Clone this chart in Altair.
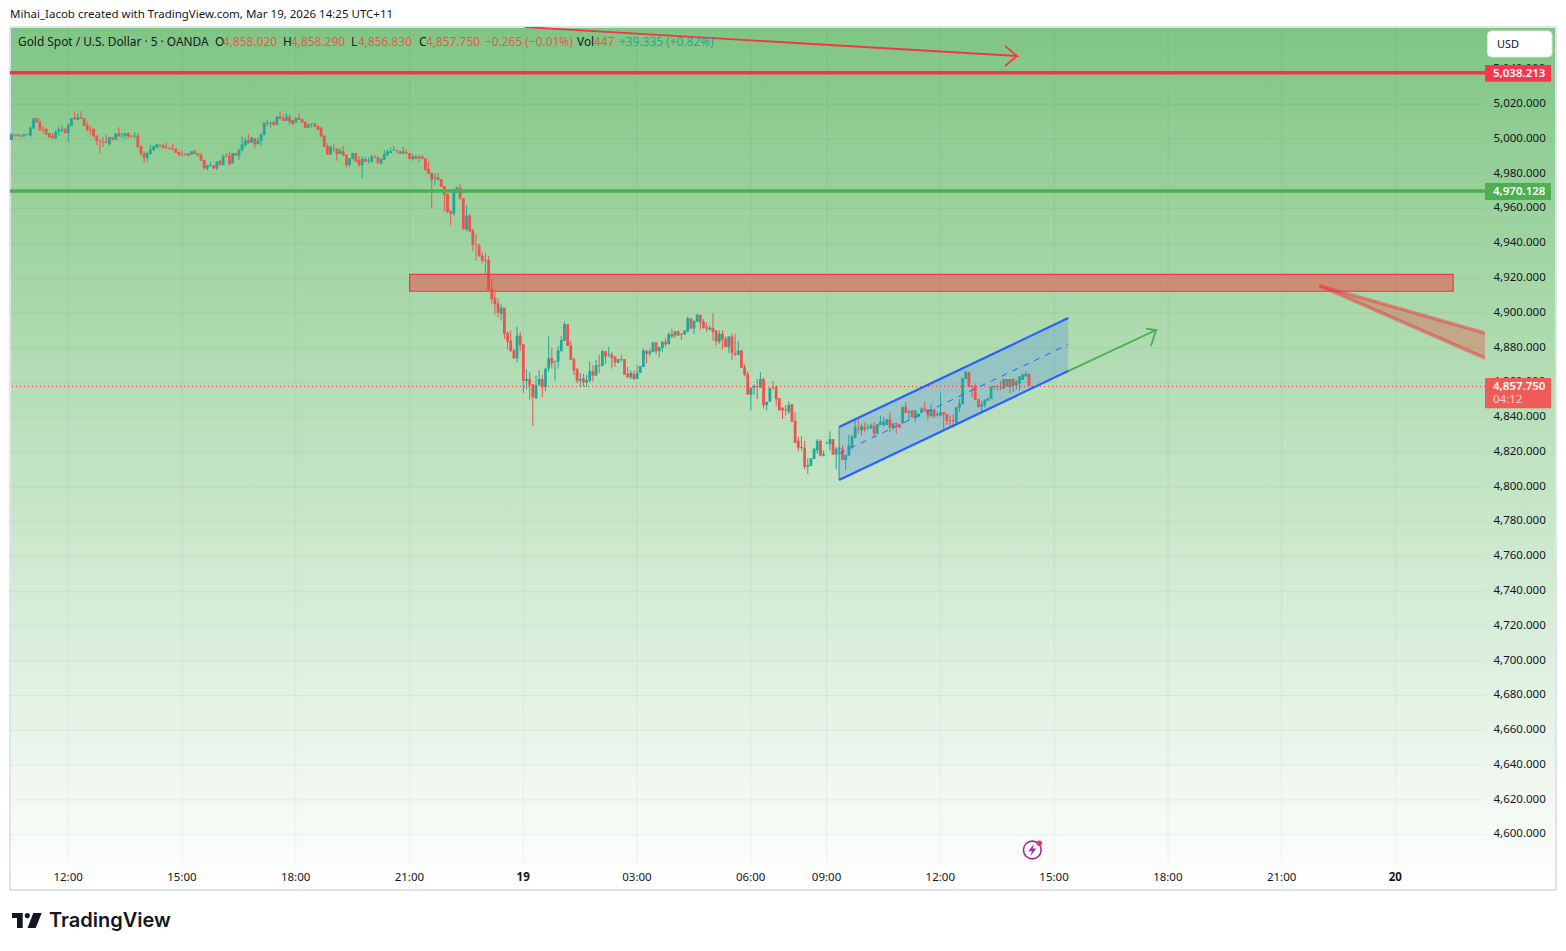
import json
import pandas as pd
import altair as alt

# 5 minute bars, bar 0 is 12:00 on the 18th
opens = [4999.5,5002.5,5002,5002,5001.5,5002.5,5002,5006,5012,5010,
    5005.5,5006,5003.5,5002,5000.5,5004,5005,5006,5003.5,5007.5,
    5012.5,5011,5012.5,5012,5008,5005.5,5006,5002,4999.5,4998.5,
    4998.5,4997,5001,4999.5,5003.5,5001.5,5002,5003,5002,5001.5,
    5002,4996,4992,4989,4991.5,4993.5,4995,4996.5,4996.5,4995.5,
    4995,4994.5,4994.5,4992.5,4991.5,4991,4991.5,4991,4993,4992,
    4991,4988,4983,4984.5,4985,4983,4987.5,4985,4990.5,4990.5,
    4986,4992,4990.5,4993.5,4996.5,4999.5,4998,5000.5,4997,4999,
    5002.5,5009.5,5009,5010,5008,5013,5012,5010.5,5012.5,5011,
    5009.5,5012.5,5011.5,5010,5006.5,5008.5,5009,5007.5,5006.5,5002,
    4996,4991,4994.5,4994.5,4991.5,4993,4991,4985,4988.5,4992,
    4988,4985,4988.5,4987,4987,4990,4989.5,4986,4988,4991,
    4992,4993.5,4993.5,4993,4991.5,4992.5,4992,4988.5,4990,4989,
    4990,4989,4983,4980.5,4977.5,4978,4977,4973,4968.5,4958.5,
    4957,4969,4972,4966,4948,4956,4948,4939.5,4939,4933,
    4930.5,4930.5,4914,4908.5,4905.5,4899.5,4903,4888.5,4884,4878.5,
    4874,4887,4882,4861,4862,4859,4851,4858.5,4862,4857.5,
    4868,4874,4872,4872,4878,4884,4893.5,4881.5,4873.5,4868,
    4861,4862.5,4860,4861,4866.5,4864,4870,4869.5,4878,4876,
    4876,4875,4871.5,4873.5,4873.5,4865,4863,4865,4862,4865.5,
    4869,4878,4876.5,4877.5,4883,4878,4880,4883.5,4882,4888,
    4887,4889.5,4888,4887.5,4889.5,4897,4891,4895,4899,4895,
    4892,4890.5,4891.5,4890,4883.5,4888,4885,4880.5,4886.5,4877,
    4876,4878.5,4869,4865,4853,4857,4858,4857,4862,4847,
    4849,4857.5,4857.5,4851,4845.5,4844.5,4843,4847.5,4838,4826.5,
    4823,4822.5,4811.5,4812,4816,4821,4826.5,4818,4825,4824.5,
    4827.5,4818.5,4822,4822,4815.5,4818,4823,4828,4833.5,4832.5,
    4834.5,4834,4833.5,4835,4830.5,4835.5,4835.5,4835.5,4839,4834,
    4836.5,4836,4836.5,4846,4842.5,4844,4839.5,4840.5,4842.5,4845,
    4844.5,4840.5,4844.5,4841,4841,4843,4842,4838.5,4838.5,4837,
    4845.5,4847.5,4862,4866,4858,4858,4850.5,4846,4847,4849.5,
    4850.5,4857.5,4858,4857.5,4856.5,4862,4857.5,4862,4858.5,4859.5,
    4861.5,4863.5,4865,4858]
highs = [5003.5,5003,5003,5002.5,5003,5003,5007.5,5012,5012,5012,
    5007.5,5006,5003.5,5003.5,5005,5007,5008,5006,5009,5012,
    5016,5015,5016,5012,5010,5008,5006,5002,4999.5,5001,
    5002.5,5001,5001,5003.5,5007,5003.5,5003.5,5004,5002,5004,
    5003.5,4996,4993,4992.5,4996.5,4996,4997.5,4997,4997.5,4998,
    4995.5,4997.5,4994.5,4993,4993.5,4992,4992,4993,4994,4992,
    4992,4988,4985,4987,4985,4987,4988,4991,4992,4993,
    4992,4992,4994,5001.5,5001,5003,5001,5000.5,5001,5003,
    5009.5,5011,5010,5010,5013,5016,5014,5015,5014,5011,
    5012.5,5015,5011.5,5010,5008.5,5009,5009.5,5008,5007,5002,
    4997.5,4996.5,4997,4994.5,4995,4996,4991,4989,4992,4992,
    4990,4990,4989.5,4989.5,4991,4991,4990,4989,4994,4994,
    4995,4996,4994,4993.5,4995.5,4994,4992,4991.5,4991,4990.5,
    4991,4989,4987.5,4981,4980,4980.5,4977,4973,4968.5,4959,
    4971,4973,4974,4966,4962,4957,4948,4945.5,4940,4935,
    4934.5,4933,4919.5,4912,4908.5,4905,4903,4889.5,4890,4879.5,
    4892,4889,4882,4867.5,4866,4859,4864,4867,4864.5,4868,
    4886.5,4880,4872.5,4881,4887,4895,4893.5,4884,4874.5,4868,
    4865.5,4865,4864.5,4872,4870,4873,4876,4879,4878,4880.5,
    4877.5,4875,4873.5,4876,4873.5,4869,4867,4867,4870,4869.5,
    4879.5,4879,4879.5,4883.5,4883.5,4880.5,4883.5,4885.5,4889,4891,
    4889.5,4890,4888.5,4890,4898,4897,4895.5,4899.5,4899,4896.5,
    4894.5,4893,4900,4890,4890,4890,4886.5,4886.5,4888.5,4888,
    4884,4878.5,4870.5,4866.5,4857,4859,4862,4866,4863,4849,
    4857,4861,4858.5,4851,4846,4847,4849,4847.5,4843,4829,
    4829,4826.5,4816.5,4816.5,4822,4827.5,4827.5,4821,4826,4832,
    4827.5,4823,4823,4824,4818.5,4830,4830,4839.5,4840,4836.5,
    4837,4836,4836.5,4837,4836,4841,4840.5,4839,4843,4836.5,
    4837,4836,4846,4849,4844.5,4844,4844,4842.5,4846,4849,
    4844.5,4847.5,4844.5,4843.5,4854,4843,4842,4841,4842,4846,
    4850.5,4862.5,4867,4866,4858.5,4859.5,4850.5,4849.5,4850.5,4851,
    4858,4858.5,4858.5,4861,4862,4862,4862,4862.5,4861.5,4863.5,
    4865.5,4866.5,4865,4858.29]
lows = [4999.5,5001,5001.5,5001,5001.5,5002.5,5001.5,5006,5009.5,5005,
    5003,5002.5,5001,5000.5,5000,5001.5,5004,5003,4998.5,5007.5,
    5011,5011,5011.5,5007.5,5005,5002.5,5001.5,4996.5,4991.5,4995.5,
    4997.5,4996.5,4999,4999.5,5001.5,5001,5000,5000.5,5001,5000.5,
    4995,4990,4986.5,4987,4991,4993.5,4995,4995.5,4995,4994.5,
    4994,4993.5,4992,4990,4990,4990.5,4990,4991,4991.5,4990.5,
    4987.5,4983,4982,4984.5,4983,4982,4985,4985,4989.5,4985.5,
    4986,4990.5,4988,4993,4995.5,4997.5,4998,4995,4997,4996,
    5002,5007,5006.5,5008,5008,5011.5,5010.5,5010.5,5008.5,5008.5,
    5009.5,5011,5009.5,5006.5,5006.5,5006.5,5007,5005,5001.5,4995.5,
    4991,4991,4992.5,4987.5,4991.5,4990.5,4983.5,4984,4988.5,4987,
    4984,4977.5,4987,4986,4986.5,4989,4986,4985,4988,4990,
    4992,4993.5,4992,4991.5,4991.5,4991,4988.5,4987.5,4988.5,4986.5,
    4988.5,4982,4980,4960,4973.5,4976,4972.5,4958.5,4957.5,4950.5,
    4956,4969,4965,4948,4947,4946.5,4935.5,4930,4932.5,4928.5,
    4922.5,4913,4905.5,4899,4897.5,4895.5,4885,4879,4878,4873.5,
    4871.5,4878,4854,4856,4850,4835,4850.5,4858.5,4851.5,4855,
    4866,4868,4861,4868,4878,4884,4881,4873,4864.5,4859.5,
    4857.5,4857.5,4857.5,4860,4860.5,4864,4865.5,4869.5,4870.5,4874.5,
    4868,4869,4871,4872,4864.5,4862.5,4862,4861.5,4862,4865.5,
    4869,4871,4875,4877.5,4876,4874.5,4877.5,4880.5,4882,4885.5,
    4885.5,4887,4884.5,4887.5,4888.5,4891,4888,4895,4890.5,4891,
    4889,4890,4884,4881,4882,4879,4880.5,4877,4873,4875,
    4876,4868.5,4863.5,4853,4844,4853,4850.5,4857,4845,4844,
    4849,4856,4846.5,4844,4839,4841,4842,4837.5,4825,4820.5,
    4821,4810,4807.5,4812,4816,4819,4817.5,4817.5,4825,4821,
    4818.5,4810,4819,4815.5,4809.5,4818,4822,4828,4830.5,4829.5,
    4831.5,4832.5,4833.5,4828.5,4830.5,4835.5,4834.5,4835.5,4831.5,4832.5,
    4830.5,4834,4836.5,4842.5,4838,4839.5,4837.5,4840,4842.5,4843.5,
    4838.5,4840.5,4839.5,4840.5,4841,4833.5,4835.5,4835,4834,4835.5,
    4843,4847.5,4862,4857.5,4851.5,4850,4845.5,4842.5,4845.5,4849.5,
    4850.5,4856,4855.5,4855.5,4856.5,4857.5,4854,4854.5,4856,4855.5,
    4861.5,4863.5,4858,4856.83]
closes = [5003,5002,5002.5,5001.5,5003,5003,5006.5,5012,5009.5,5005,
    5005,5002.5,5001,5000.5,5004,5005.5,5005.5,5003.5,5008,5012,
    5011.5,5012.5,5011.5,5007.5,5005,5005,5001.5,4999,4999,4998,
    4998,5001,5000,5003,5001.5,5002,5003.5,5001.5,5001.5,5002,
    4995.5,4991.5,4989,4992,4994,4996,4997,4996,4995,4995,
    4994.5,4994,4992,4991,4991,4991.5,4990.5,4993,4991.5,4990.5,
    4987.5,4983,4985,4985,4983,4987,4985,4990,4990,4985.5,
    4992,4990.5,4994,4997,4999,4997.5,5001,4997,4999,5003,
    5009.5,5009,5009.5,5008,5013,5011.5,5010.5,5013,5010,5008.5,
    5012,5011,5009.5,5006.5,5008.5,5009,5007,5005.5,5001.5,4995.5,
    4991,4995.5,4994,4991.5,4993.5,4990.5,4985,4989,4992,4987,
    4985,4988.5,4987,4987.5,4990,4989.5,4986,4988.5,4991.5,4993,
    4993,4994,4993,4991.5,4993,4992,4988.5,4990,4988.5,4990,
    4988.5,4982,4980,4976.5,4978,4976.5,4972.5,4968,4958,4957,
    4970.5,4972,4966,4948,4956,4947,4939,4939,4932.5,4930,
    4930,4913,4908,4905,4900,4903,4888,4883.5,4878,4874,
    4887,4881.5,4861,4862,4858.5,4851.5,4858.5,4862,4857.5,4868,
    4874,4871,4872.5,4878.5,4884.5,4893.5,4881,4873,4867,4861,
    4862,4860,4861.5,4866.5,4864,4870,4869.5,4878,4875,4876.5,
    4874,4871.5,4873.5,4873,4864.5,4863,4865.5,4862,4865.5,4869.5,
    4878.5,4876.5,4878,4883,4878,4880.5,4883.5,4882,4888,4886.5,
    4889.5,4887,4887.5,4890,4897,4891,4895.5,4899,4894.5,4891.5,
    4891,4891.5,4889,4883.5,4888,4884.5,4880.5,4886.5,4877,4876,
    4878.5,4868.5,4864.5,4853,4857,4858,4857.5,4862,4847,4849,
    4857,4857,4850.5,4844,4844,4844,4847,4837.5,4825.5,4822.5,
    4822.5,4811.5,4812.5,4816.5,4822,4826.5,4818,4819,4825.5,4827.5,
    4818.5,4822,4822.5,4815.5,4818.5,4824,4829,4834.5,4833,4835,
    4833,4834.5,4835.5,4830.5,4836,4837.5,4837.5,4839,4834,4836.5,
    4836,4834,4846,4842.5,4843.5,4840,4844,4842,4845,4843.5,
    4841,4844.5,4840.5,4842,4843,4841.5,4838,4838,4838,4846,
    4848,4862.5,4866,4857.5,4857.5,4850,4846,4847.5,4850,4851,
    4857.5,4858,4857.5,4857,4862,4857.5,4862,4858,4860.5,4863.5,
    4864.5,4865,4858,4857.75]

# axis ticks
time_ticks = [0, 36, 72, 108, 144, 180, 216, 240, 276, 312, 348, 384, 420]
time_labels = ['12:00', '15:00', '18:00', '21:00', '19', '03:00', '06:00', '09:00',
               '12:00', '15:00', '18:00', '21:00', '20']
price_ticks = [5040, 5020, 5000, 4980, 4960, 4940, 4920, 4900, 4880, 4860, 4840, 4820,
               4800, 4780, 4760, 4740, 4720, 4700, 4680, 4660, 4640, 4620, 4600]
hidden_ticks = [5040, 4860]  # these two sit behind the price tags

# horizontal levels
resistance = 5038.213
support = 4970.128
last_price = 4857.750

# drawings
zone_x = [108.0, 438.2]
zone_top = 4922.2
zone_bottom = 4912.5
channel_x = [243.9, 316.4]
channel_top = [4834.4, 4897.1]
channel_mid = [4819.2, 4881.85]
channel_bottom = [4804.0, 4866.6]
green_arrow_x = [316.4, 344.2, 341.0, 344.2, 342.6]
green_arrow_y = [4866.6, 4890.2, 4891.0, 4890.2, 4881.0]
red_arrow_x = [144.5, 300.2, 296.4, 300.2, 296.4]
red_arrow_y = [5064.4, 5047.8, 5053.6, 5047.8, 5042.0]
fork_x = [395.9, 448.3]
fork_upper = [4915.7, 4888.5]
fork_lower = [4915.7, 4874.1]

# price tags on the right
tag_text = ['5,038.213', '4,970.128', '4,857.750']
tag_top = [5042.6, 4974.7, 4862.6]
tag_bottom = [5033.0, 4965.0, 4845.2]
tag_color = ['#f7374f', '#4caf50', '#f05a57']
tag_label_y = [5037.7, 4969.6, 4857.5]

UP = '#26a69a'
DOWN = '#ef5350'
TEXT = '#131722'
RED = '#f23645'
BLUE = '#2962ff'
FONT = 'Noto Sans'

df = pd.DataFrame({'bar': list(range(-18, 306)), 'open': opens, 'high': highs,
                   'low': lows, 'close': closes})
df['dir'] = ['up' if c >= o else 'down' for o, c in zip(opens, closes)]

x_scale = alt.Scale(domain=[-18.45, 448.3], nice=False, zero=False)
y_scale = alt.Scale(domain=[4584.3, 5064.45], nice=False, zero=False)
color_scale = alt.Scale(domain=['up', 'down'], range=[UP, DOWN])

# the one x and y axis, every layer carries the same definition
x_axis = alt.Axis(
    orient='bottom', values=time_ticks, domain=False, ticks=False, grid=False, labelPadding=9,
    labelFontSize=11.5, labelFont=FONT, labelColor=TEXT, zindex=1, labelOverlap=False,
    labelFlush=False, labelOffset=-0.7,
    labelExpr=json.dumps(time_labels) + '[indexof(' + json.dumps(time_ticks) + ',datum.value)]',
    labelFontWeight={'condition': {'test': 'datum.value==144||datum.value==420', 'value': 'bold'},
                     'value': 'normal'})
y_axis = alt.Axis(
    orient='right', values=[p for p in price_ticks if p not in hidden_ticks], format=',.3f',
    domain=False, ticks=False, grid=False, labelPadding=8, labelFontSize=11.5, labelFont=FONT,
    labelColor=TEXT, labelAlign='left', labelOffset=-0.7, zindex=1, labelOverlap=False,
    labelFlush=False)


def X(field='bar'):
    return alt.X(field + ':Q', scale=x_scale, axis=x_axis, title=None)


def Y(field='price'):
    return alt.Y(field + ':Q', scale=y_scale, axis=y_axis, title=None)


one_row = pd.DataFrame({'a': [0]})


def label(text, px, py, color=TEXT, size=11.5, weight='normal', opacity=1, font=FONT):
    # text placed in page pixels, plot area starts at (10, 27)
    return alt.Chart(pd.DataFrame({'t': [text]})).mark_text(
        align='left', baseline='middle', color=color, fontSize=size, fontWeight=weight,
        opacity=opacity, font=font
    ).encode(x=alt.value(px - 10), y=alt.value(py - 27), text='t:N')


panel = alt.Chart(one_row).mark_rect(
    color=alt.LinearGradient(gradient='linear', x1=0, x2=0, y1=0, y2=1,
                             stops=[alt.GradientStop(color='#80c683', offset=0),
                                    alt.GradientStop(color='#ffffff', offset=1)]),
    stroke='#e0e3eb', strokeWidth=2
).encode(x=alt.value(0), x2=alt.value(1546), y=alt.value(0), y2=alt.value(863))

grid_h = alt.Chart(pd.DataFrame({'price': price_ticks})).mark_rule(
    color='#2a2e39', opacity=0.06, strokeWidth=1
).encode(y=Y())
grid_v = alt.Chart(pd.DataFrame({'bar': time_ticks})).mark_rule(
    color='#2a2e39', opacity=0.06, strokeWidth=1
).encode(x=X())

wicks = alt.Chart(df).mark_rule(strokeWidth=1).encode(
    x=X(), y=Y('low'), y2='high:Q',
    color=alt.Color('dir:N', scale=color_scale, legend=None))
bodies = alt.Chart(df).mark_rule(strokeWidth=2.8).encode(
    x=X(), y=Y('open'), y2='close:Q',
    color=alt.Color('dir:N', scale=color_scale, legend=None))

level_red = alt.Chart(pd.DataFrame({'price': [resistance]})).mark_rule(
    color=RED, strokeWidth=3.5).encode(y=Y())
level_green = alt.Chart(pd.DataFrame({'price': [support]})).mark_rule(
    color='#4caf50', strokeWidth=3.5).encode(y=Y())
level_last = alt.Chart(pd.DataFrame({'price': [last_price]})).mark_rule(
    color=RED, strokeWidth=1, strokeDash=[1, 3]).encode(y=Y())

zone = alt.Chart(pd.DataFrame({'x1': [zone_x[0]], 'x2': [zone_x[1]],
                               'top': [zone_top], 'bottom': [zone_bottom]})).mark_rect(
    color='#ef4444', fillOpacity=0.5, stroke=RED, strokeWidth=1.2
).encode(x=X('x1'), x2='x2:Q', y=Y('top'), y2='bottom:Q')

channel = pd.DataFrame({'bar': channel_x, 'top': channel_top, 'mid': channel_mid,
                        'bottom': channel_bottom})
channel_fill = alt.Chart(channel).mark_area(color=BLUE, opacity=0.2).encode(
    x=X(), y=Y('top'), y2='bottom:Q')
channel_edge = alt.Chart(channel.iloc[:1]).mark_rule(color='#3f8f9a', strokeWidth=1).encode(
    x=X(), y=Y('top'), y2='bottom:Q')
channel_lines = (
    alt.Chart(channel).mark_line(color=BLUE, strokeWidth=2.2).encode(x=X(), y=Y('top'))
    + alt.Chart(channel).mark_line(color=BLUE, strokeWidth=2.2).encode(x=X(), y=Y('bottom'))
    + alt.Chart(channel).mark_line(color=BLUE, strokeWidth=1, strokeDash=[6, 6]).encode(x=X(), y=Y('mid'))
)


def arrow(xs, ys, color):
    a = pd.DataFrame({'bar': xs, 'price': ys, 'n': list(range(len(xs)))})
    return alt.Chart(a).mark_line(color=color, strokeWidth=1.8, clip=True).encode(
        x=X(), y=Y(), order='n:Q')


fork = pd.DataFrame({'bar': fork_x, 'upper': fork_upper, 'lower': fork_lower})
fork_fill = alt.Chart(fork).mark_area(color='#e05a50', opacity=0.4, clip=True).encode(
    x=X(), y=Y('upper'), y2='lower:Q')
fork_up = alt.Chart(fork).mark_line(color=RED, opacity=0.5, strokeWidth=3.5, clip=True).encode(
    x=X(), y=Y('upper'))
fork_low = alt.Chart(fork).mark_line(color=RED, opacity=0.5, strokeWidth=3.5, clip=True).encode(
    x=X(), y=Y('lower'))

under_tags = alt.Chart(pd.DataFrame({'price': hidden_ticks})).mark_text(
    align='left', baseline='middle', color=TEXT, fontSize=11.5, font=FONT, dy=-0.7
).encode(x=alt.value(1483), y=Y(), text=alt.Text('price:Q', format=',.3f'))

tags = alt.Chart(pd.DataFrame({'top': tag_top, 'bottom': tag_bottom, 'c': tag_color})).mark_rect().encode(
    x=alt.value(1475), x2=alt.value(1541), y=Y('top'), y2='bottom:Q',
    color=alt.Color('c:N', scale=None))
tag_labels = alt.Chart(pd.DataFrame({'t': tag_text, 'price': tag_label_y})).mark_text(
    align='left', baseline='middle', color='white', fontSize=11.5, fontWeight=600, font=FONT
).encode(x=alt.value(1483), y=Y(), text='t:N')

usd_box = alt.Chart(one_row).mark_rect(color='white', cornerRadius=4, stroke='#e0e3eb').encode(
    x=alt.value(1477.5), x2=alt.value(1542), y=alt.value(4), y2=alt.value(30))

# Gold legend line, one piece per colour
legend_line = [
    ('Gold Spot / U.S. Dollar \u00b7 5 \u00b7 OANDA', 18, TEXT),
    ('O', 215, TEXT), ('4,858.020', 223, DOWN),
    ('H', 283, TEXT), ('4,858.290', 291, DOWN),
    ('L', 351, TEXT), ('4,856.830', 358, DOWN),
    ('C', 419, TEXT), ('4,857.750', 426, DOWN),
    ('\u22120.265 (\u22120.01%)', 485, DOWN),
    ('Vol', 577, TEXT), ('447', 594, DOWN),
    ('+39.335 (+0.82%)', 619, UP),
]

tv_logo = alt.Chart(one_row).mark_point(
    shape='M-.967 -.5L-.253 -.5L-.253 .5L-.633 .5L-.633 -.167L-.967 -.167Z'
          'M.453 -.5L1.013 -.5L.613 .5L.067 .5Z'
          'M-.12 -.32a.173 .173 0 1 0 .346 0a.173 .173 0 1 0 -.346 0Z',
    filled=True, size=900, color=TEXT, opacity=1
).encode(x=alt.value(16.5), y=alt.value(893.5))

bolt_ring = alt.Chart(one_row).mark_point(
    shape='circle', size=314, color='#9c27b0', strokeWidth=1.6, filled=False, opacity=1
).encode(x=alt.value(1022.3), y=alt.value(823))
bolt = alt.Chart(one_row).mark_point(
    shape='M.25 -1L-.65 .2L-.05 .2L-.3 1L.65 -.25L.05 -.25Z',
    filled=True, size=144, color='#9c27b0', opacity=1
).encode(x=alt.value(1022.3), y=alt.value(823))
bolt_dot = alt.Chart(one_row).mark_point(
    shape='circle', size=30, color=RED, filled=True, opacity=1
).encode(x=alt.value(1029.3), y=alt.value(816.3))

layers = [panel, grid_h, grid_v, channel_fill, wicks, bodies, level_red, level_green, level_last, zone,
          channel_edge, channel_lines, arrow(green_arrow_x, green_arrow_y, '#4caf50'),
          arrow(red_arrow_x, red_arrow_y, RED), fork_fill, fork_up, fork_low, under_tags, tags,
          tag_labels, label('04:12', 1493, 399.5, color='white', opacity=0.7),
          usd_box, label('USD', 1497, 44.5, size=11),
          label('Mihai_Iacob created with TradingView.com, Mar 19, 2026 14:25 UTC+11', 10, 14.5, size=11.5),
          tv_logo, label('TradingView', 49, 921, size=20, weight=600, font='Inter'),
          bolt_ring, bolt, bolt_dot]
layers += [label(t, px, 42, color=c, size=11.9) for t, px, c in legend_line]

chart = alt.layer(*layers).properties(
    width=1475, height=835,
    autosize=alt.AutoSizeParams(type='none'),
    padding={'left': 2, 'top': 19, 'right': 73, 'bottom': 81}
).configure_view(strokeWidth=0)

chart.save("out.html", embed_options={"renderer": "svg", "actions": False})
